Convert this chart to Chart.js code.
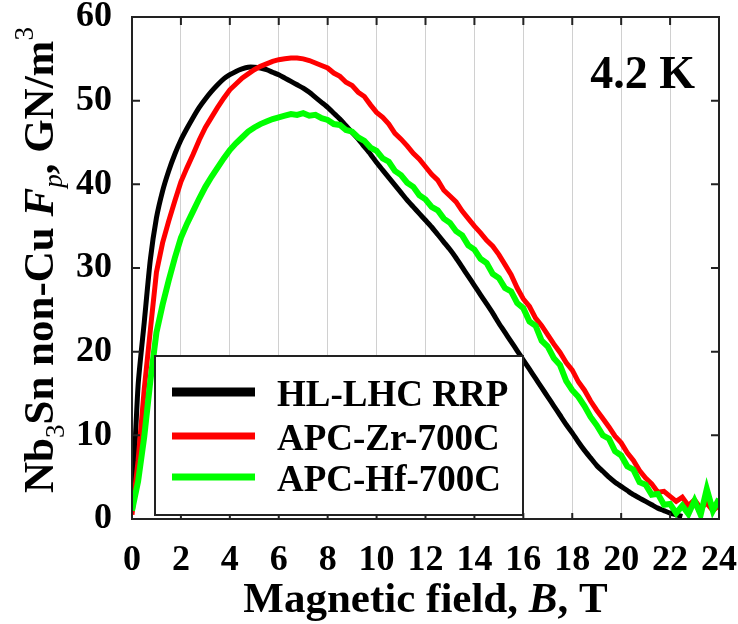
<!DOCTYPE html>
<html>
<head>
<meta charset="utf-8">
<script src="https://cdn.jsdelivr.net/npm/chart.js@4.4.1/dist/chart.umd.min.js"></script>
<style>
  html, body { margin: 0; padding: 0; background: #fff; }
  #wrap { width: 738px; height: 624px; position: relative; }
  .font-warm { position: absolute; left: -9999px; top: 0; font-family: "Liberation Serif"; font-weight: bold; }
</style>
</head>
<body>
<div id="wrap"><canvas id="fp-chart" width="738" height="624"></canvas></div>
<div class="font-warm">0123456789 Magnetic <i>B</i> <span style="font-weight:normal">3 <i>p</i></span></div>
<script>
// Magnetic field grid, T (0.25 T steps)
const fieldB = [
  0, 0.25, 0.5, 0.75, 1, 1.25, 1.5, 1.75, 2, 2.25, 2.5, 2.75,
  3, 3.25, 3.5, 3.75, 4, 4.25, 4.5, 4.75, 5, 5.25, 5.5, 5.75,
  6, 6.25, 6.5, 6.75, 7, 7.25, 7.5, 7.75, 8, 8.25, 8.5, 8.75,
  9, 9.25, 9.5, 9.75, 10, 10.25, 10.5, 10.75, 11, 11.25, 11.5, 11.75,
  12, 12.25, 12.5, 12.75, 13, 13.25, 13.5, 13.75, 14, 14.25, 14.5, 14.75,
  15, 15.25, 15.5, 15.75, 16, 16.25, 16.5, 16.75, 17, 17.25, 17.5, 17.75,
  18, 18.25, 18.5, 18.75, 19, 19.25, 19.5, 19.75, 20, 20.25, 20.5, 20.75,
  21, 21.25, 21.5, 21.75, 22, 22.25, 22.5, 22.75, 23, 23.25, 23.5, 23.75, 24
];

// Pinning force Fp, GN/m3
const fpHLLHC = [
  1, 16, 23.5, 31, 36, 39.2, 41.6, 43.6, 45.3, 46.7, 48, 49.2,
  50.2, 51.1, 51.9, 52.6, 53.1, 53.5, 53.8, 54, 54, 53.9, 53.7, 53.4,
  53.1, 52.7, 52.3, 51.9, 51.5, 51, 50.4, 49.8, 49.2, 48.5, 47.8, 47,
  46.2, 45.4, 44.5, 43.6, 42.6, 41.7, 40.8, 39.9, 39, 38.1, 37.3, 36.5,
  35.7, 34.9, 34, 33.1, 32.2, 31.2, 30.1, 29, 27.9, 26.8, 25.7, 24.6,
  23.4, 22.3, 21.2, 20.1, 19, 17.9, 16.8, 15.7, 14.6, 13.5, 12.4, 11.3,
  10.3, 9.2, 8.2, 7.3, 6.4, 5.7, 5, 4.4, 3.9, 3.4, 2.9, 2.5,
  2.1, 1.7, 1.3, 1, 0.7, 0.5, 0.3, null, null, null, null, null, null
];

const fpAPCZr = [
  0.5, 7, 15.5, 22.6, 29.5, 33, 35.6, 38, 40.3, 42, 43.6, 45.3,
  46.8, 48, 49.2, 50.3, 51.3, 52, 52.7, 53.2, 53.7, 54.1, 54.4, 54.7,
  54.9, 55, 55.1, 55.1, 55, 54.8, 54.5, 54.2, 53.9, 53.3, 52.9, 52.2,
  51.8, 51, 50.5, 49.5, 48.6, 48, 47.2, 46.1, 45.4, 44.6, 43.7, 43,
  42.1, 41.2, 40.5, 39.3, 38.6, 37.9, 36.8, 35.9, 35, 34.2, 33.3, 32.6,
  31.6, 30.4, 29.2, 27.6, 26.3, 25.4, 24, 23.1, 22, 20.9, 19.9, 18.7,
  17.8, 16.4, 15.4, 14.1, 13, 12, 11, 9.9, 9.1, 7.9, 7, 5.8,
  4.9, 4.2, 3.2, 3.3, 2.7, 2.1, 2.6, 1.6, 2.3, 1.3, 1.9, 1, 1.6
];

const fpAPCHf = [
  1, 4.5, 9.8, 16.5, 22.3, 25.6, 28.5, 31.2, 33.6, 35.3, 36.8, 38.3,
  39.7, 40.9, 42, 43.1, 44.1, 44.9, 45.6, 46.3, 46.8, 47.2, 47.5, 47.8,
  48, 48.2, 48.4, 48.3, 48.5, 48.2, 48.3, 47.9, 47.7, 47.2, 47.1, 46.5,
  46.3, 45.6, 45.2, 44.4, 44, 43.1, 42.7, 41.6, 41.1, 40.2, 39.7, 38.7,
  38.2, 37.3, 36.9, 35.9, 35.4, 34.4, 33.9, 32.7, 32.2, 31.1, 30.6, 29.3,
  28.8, 27.6, 27.2, 25.8, 25.2, 23.6, 23.1, 21.3, 20.6, 19.2, 18.4, 16.5,
  15.4, 14.6, 13.5, 12.2, 11.2, 10, 9.6, 8.1, 7.6, 6.3, 5.9, 4.4,
  4.1, 2.9, 3, 1.7, 1.8, 0.7, 1.6, 0.6, 2.2, 0.5, 3.6, 1, 2.4
];

const seriesNames = ['HL-LHC RRP', 'APC-Zr-700C', 'APC-Hf-700C'];
const seriesColors = ['#000000', '#ff0000', '#00ff00'];
const xTicksT = [0, 2, 4, 6, 8, 10, 12, 14, 16, 18, 20, 22, 24];
const yTicksFp = [0, 10, 20, 30, 40, 50, 60];
const tempLabel = '4.2 K';

const SERIF = '"Liberation Serif", "Times New Roman", serif';

const toPoints = (vals) => fieldB.map((b, i) => ({ x: b, y: vals[i] }));

// draws text made of runs with different fonts, centered on (x, y)
function drawRuns(ctx, runs, x, y) {
    let total = 0;
    runs.forEach(r => { ctx.font = r.font; r.w = ctx.measureText(r.t).width; total += r.w; });
    let cx = x - total / 2;
    ctx.textAlign = 'left';
    ctx.textBaseline = 'alphabetic';
    runs.forEach(r => {
        ctx.font = r.font;
        ctx.fillText(r.t, cx, y + (r.dy || 0));
        cx += r.w;
    });
}

const decorPlugin = {
    id: 'decor',
    afterDraw(chart) {
        const { ctx, chartArea: a, scales } = chart;
        const xs = scales.x, ys = scales.y;
        ctx.save();

        // tick marks pointing inward
        ctx.strokeStyle = '#222';
        ctx.lineWidth = 2;
        ctx.beginPath();
        yTicksFp.forEach(v => {
            if (v === 0 || v === 60) return;
            const y = ys.getPixelForValue(v);
            ctx.moveTo(a.left, y); ctx.lineTo(a.left + 8, y);
            ctx.moveTo(a.right, y); ctx.lineTo(a.right - 8, y);
        });
        xTicksT.forEach(v => {
            if (v === 0 || v === 24) return;
            const x = xs.getPixelForValue(v);
            ctx.moveTo(x, a.bottom); ctx.lineTo(x, a.bottom - 6);
            ctx.moveTo(x, a.top); ctx.lineTo(x, a.top + 8);
        });
        ctx.stroke();

        // frame
        ctx.strokeRect(a.left, a.top, a.right - a.left, a.bottom - a.top);

        // legend box
        const lx = 155, ly = 356, lw = 368, lh = 159;
        ctx.fillStyle = '#fff';
        ctx.fillRect(lx, ly, lw, lh);
        ctx.strokeStyle = '#222';
        ctx.lineWidth = 2;
        ctx.strokeRect(lx, ly, lw, lh);
        const rows = [392, 436, 477];
        const lineW = [9, 7, 7];
        seriesNames.forEach((name, i) => {
            ctx.strokeStyle = seriesColors[i];
            ctx.lineWidth = lineW[i];
            ctx.beginPath();
            ctx.moveTo(172, rows[i]); ctx.lineTo(255, rows[i]);
            ctx.stroke();
            ctx.fillStyle = '#000';
            ctx.font = 'bold 37px ' + SERIF;
            ctx.textAlign = 'left';
            ctx.textBaseline = 'alphabetic';
            ctx.fillText(name, 277, rows[i] + 14);
        });

        // temperature label
        ctx.fillStyle = '#000';
        ctx.font = 'bold 46px ' + SERIF;
        ctx.textAlign = 'right';
        ctx.fillText(tempLabel, 695, 88);

        // x axis title
        const big = 'bold 43px ' + SERIF, bigI = 'italic bold 43px ' + SERIF;
        const small = '27px ' + SERIF, smallI = 'italic 27px ' + SERIF;
        drawRuns(ctx, [
            { t: 'Magnetic field, ', font: big },
            { t: 'B', font: bigI },
            { t: ', T', font: big }
        ], (a.left + a.right) / 2, 612);

        // y axis title
        ctx.translate(53, 260);
        ctx.rotate(-Math.PI / 2);
        drawRuns(ctx, [
            { t: 'Nb', font: big },
            { t: '3', font: small, dy: 11 },
            { t: 'Sn non-Cu ', font: big },
            { t: 'F', font: bigI },
            { t: 'p', font: smallI, dy: 9 },
            { t: ', GN/m', font: big },
            { t: '3', font: small, dy: -20 }
        ], 0, 0);

        ctx.restore();
    }
};

const tickFont = { family: SERIF, size: 36, weight: 'bold' };

function drawChart() {
    new Chart(document.getElementById('fp-chart'), {
        type: 'line',
        data: {
            datasets: [
                {
                    label: seriesNames[0],
                    data: toPoints(fpHLLHC),
                    borderColor: seriesColors[0],
                    borderWidth: 5,
                    pointRadius: 0,
                    tension: 0.2,
                    order: 2
                },
                {
                    label: seriesNames[1],
                    data: toPoints(fpAPCZr),
                    borderColor: seriesColors[1],
                    borderWidth: 5,
                    pointRadius: 0,
                    tension: 0,
                    order: 1
                },
                {
                    label: seriesNames[2],
                    data: toPoints(fpAPCHf),
                    borderColor: seriesColors[2],
                    borderWidth: 6,
                    pointRadius: 0,
                    tension: 0,
                    order: 0
                }
            ]
        },
        options: {
            responsive: false,
            animation: false,
            spanGaps: false,
            layout: { padding: { top: 17, right: 19, left: 0, bottom: 0 } },
            plugins: { legend: { display: false }, tooltip: { enabled: false } },
            scales: {
                x: {
                    type: 'linear',
                    min: 0, max: 24,
                    afterBuildTicks: s => { s.ticks = xTicksT.map(v => ({ value: v })); },
                    ticks: { font: tickFont, color: '#000', padding: 20, maxRotation: 0, autoSkip: false },
                    grid: { color: '#d0d0d0', lineWidth: 1, drawTicks: false },
                    border: { display: true, color: '#222', width: 2 },
                    afterFit: s => { s.height = 105; s.paddingLeft = 0; s.paddingRight = 0; }
                },
                y: {
                    min: 0, max: 60,
                    afterBuildTicks: s => { s.ticks = yTicksFp.map(v => ({ value: v })); },
                    ticks: { font: tickFont, color: '#000', padding: 20 },
                    grid: { display: false, drawTicks: false },
                    border: { display: true, color: '#222', width: 2 },
                    afterFit: s => { s.width = 132; s.paddingTop = 0; s.paddingBottom = 0; }
                }
            }
        },
        plugins: [decorPlugin]
    });
}

Promise.all([
    document.fonts.load('bold 36px "Liberation Serif"'),
    document.fonts.load('italic bold 36px "Liberation Serif"'),
    document.fonts.load('27px "Liberation Serif"'),
    document.fonts.load('italic 27px "Liberation Serif"')
]).then(drawChart, drawChart);
</script>
</body>
</html>
